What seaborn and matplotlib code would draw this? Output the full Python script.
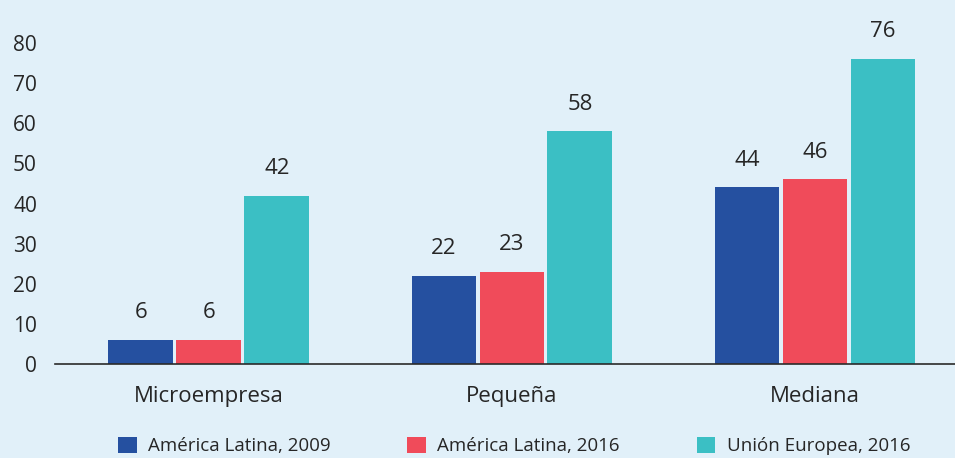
import matplotlib
matplotlib.use("Agg")
import matplotlib.pyplot as plt
import seaborn as sns
import pandas as pd

# Share of firms by size class (%)
categories = ["Microempresa", "Pequeña", "Mediana"]
series = ["América Latina, 2009", "América Latina, 2016", "Unión Europea, 2016"]
al_2009 = [6, 22, 44]
al_2016 = [6, 23, 46]
ue_2016 = [42, 58, 76]
y_ticks = [0, 10, 20, 30, 40, 50, 60, 70, 80]

colors = ["#2550a0", "#f04b5a", "#3bbfc4"]
bg = "#e1f0f9"
text_color = "#262626"

rows = []
for name, vals in zip(series, [al_2009, al_2016, ue_2016]):
    for cat, v in zip(categories, vals):
        rows.append({"categoria": cat, "serie": name, "valor": v})
df = pd.DataFrame(rows)

sns.set_theme(style="white")
plt.rcParams["font.family"] = ["Open Sans", "DejaVu Sans"]

fig = plt.figure(figsize=(9.55, 4.58), dpi=100, facecolor=bg)
ax = fig.add_axes([55 / 955, 1 - 364 / 458, 900 / 955, 341 / 458])
ax.set_facecolor(bg)

sns.barplot(data=df, x="categoria", y="valor", hue="serie", order=categories,
            hue_order=series, palette=colors, width=0.673, gap=0.045,
            saturation=1, linewidth=0, ax=ax, legend=True)

ax.set_xlim(-0.508, 2.462)
ax.set_ylim(0, 85)
ax.set_yticks(y_ticks)
ax.set_xlabel("")
ax.set_ylabel("")
for s in ["top", "right", "left"]:
    ax.spines[s].set_visible(False)
ax.spines["bottom"].set_color("#2a2a2a")
ax.spines["bottom"].set_linewidth(1.2)
ax.spines["bottom"].set_zorder(5)
ax.tick_params(axis="y", length=0, pad=13, labelsize=15, labelcolor=text_color)
ax.tick_params(axis="x", length=0, pad=16, labelsize=16, labelcolor=text_color)

for cont in ax.containers:
    ax.bar_label(cont, fmt="%d", padding=12, fontsize=16, color=text_color)

handles, labels = ax.get_legend_handles_labels()
ax.get_legend().remove()
fig.legend(handles, labels, loc="center", bbox_to_anchor=(514 / 955, 1 - 446 / 458),
           ncol=3, frameon=False, fontsize=13.5, handlelength=1.0, handleheight=1.0,
           handletextpad=0.6, columnspacing=4.1, labelcolor=text_color)

fig.savefig("out.png", dpi=100, facecolor=bg)
